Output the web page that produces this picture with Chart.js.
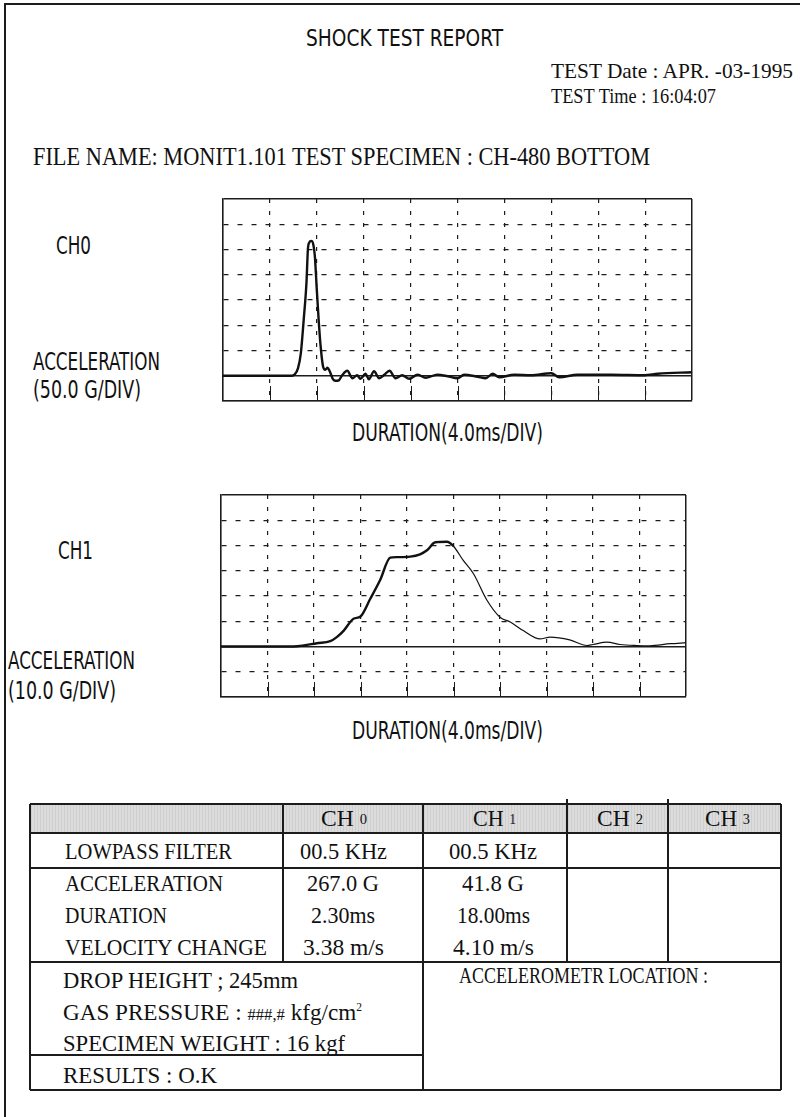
<!DOCTYPE html>
<html>
<head>
<meta charset="utf-8">
<script src="https://cdn.jsdelivr.net/npm/chart.js@4.4.1/dist/chart.umd.min.js"></script>
<style>
  body { margin: 0; background: #fff; }
  #page { position: relative; width: 800px; height: 1117px; overflow: hidden; background: #fff; }
  .t { position: absolute; white-space: nowrap; line-height: 1; color: #111; transform-origin: 0 50%; }
  .ln { position: absolute; background: #1c1c1c; }
  .hdr { position: absolute; background-color: #dcdcdc;
         background-image: radial-gradient(#8a8a8a 0.5px, transparent 0.8px); background-size: 3px 2px; }
  canvas { position: absolute; }
</style>
</head>
<body>
<div id="page">
  <canvas id="ch0" width="473" height="206" style="left:221px;top:197px"></canvas>
  <canvas id="ch1" width="469" height="206" style="left:219px;top:493px"></canvas>
</div>
<script>
// time axis, 4 ms per division, 10 divisions
const timeMin = 0, timeMax = 40, timeStep = 4;

// CH0, 50 G/DIV
const ch0Range = [-50, 350], ch0Step = 50;
const ch0Time  = [0, 5.88, 6.12, 6.4, 6.64, 6.88, 7.12, 7.24, 7.36, 7.52, 7.68, 7.84, 8.0, 8.16, 8.32, 8.52, 8.72, 8.92, 9.12, 9.36,
                  9.6, 9.88, 10.16, 10.6, 11.04, 11.44, 11.72, 12.16, 12.44, 12.88, 13.32, 13.76, 14.2, 14.72, 15.28, 15.88, 16.6, 17.28,
                  18.28, 19.16, 20.0, 20.56, 21.72, 22.4, 23.0, 23.56, 24.84, 26.28, 28.0, 28.68, 30.24, 33.12, 35.96, 37.08, 40];
const ch0Accel = [0, 0, 3, 15, 45, 110, 185, 250, 264, 267, 262, 235, 170, 110, 60, 20, 12, 16, 8, -6,
                  -10, -9, 1, 10, -5, 1, -6, 4, -7, 9, -5, 2, 10, -5, 1, -6, 2, -4,
                  2, -1, -5, 2, -2, -5, 4, -3, 2, 1, 5, -3, 2, 2, 1, 4, 7];

// CH1, 10 G/DIV
const ch1Range = [-20, 60], ch1Step = 10;
const ch1Time  = [0, 6.24, 7.12, 8.24, 9.4, 9.96, 10.56, 11.4, 12.0, 12.84, 13.68, 14.56, 15.12, 16.28, 17.12, 17.72, 18.44, 19.44,
                  20.0, 20.84, 21.72, 22.88, 24.0, 24.88, 26.0, 27.44, 28.32, 30.0, 31.48, 32.0, 33.2, 34.32, 35.76, 36.88, 38.64, 40];
const ch1Accel = [0, 0, 0.4, 1.3, 2.1, 3.7, 6.3, 11.0, 11.9, 18.9, 26.2, 35.2, 35.4, 35.6, 36.5, 38.1, 41.3, 41.5,
                  39.7, 34.1, 28.8, 18.3, 11.6, 9.7, 6.3, 3.0, 3.7, 2.6, 0.4, 0.8, 1.7, 0.8, 0.4, 0.3, 1.1, 1.5];
const ch1ThickUntil = 18;

// table
const channels  = ['0', '1', '2', '3'];
const rowLabels = ['LOWPASS FILTER', 'ACCELERATION', 'DURATION', 'VELOCITY CHANGE'];
const ch0Values = ['00.5 KHz', '267.0 G', '2.30ms', '3.38 m/s'];
const ch1Values = ['00.5 KHz', '41.8 G', '18.00ms', '4.10 m/s'];

const page = document.getElementById('page');
const SANS = '"Liberation Sans Narrow", "DejaVu Sans Condensed", sans-serif';
const SERIF = '"Liberation Serif", "DejaVu Serif", serif';

// text placed by cap centre; w = width seen in the scan, or k = fixed squeeze
function put(html, x, y, font, size, w, align, k) {
  const s = document.createElement('div');
  s.className = 't';
  s.innerHTML = html;
  s.style.fontFamily = font;
  s.style.fontSize = size + 'px';
  page.appendChild(s);
  const nat = s.getBoundingClientRect().width;
  if (!k) k = w ? w / nat : 1;
  const ww = nat * k;
  s.style.left = (align === 'center' ? x - ww / 2 : x) + 'px';
  s.style.top = (y - size / 2) + 'px';
  s.style.transform = 'scaleX(' + k + ')';
  return k;
}
function hline(x1, x2, y, t) {
  const d = document.createElement('div');
  d.className = 'ln';
  t = t || 1.5;
  Object.assign(d.style, { left: x1 + 'px', top: (y - t / 2) + 'px', width: (x2 - x1) + 'px', height: t + 'px' });
  page.appendChild(d);
}
function vline(x, y1, y2, t) {
  const d = document.createElement('div');
  d.className = 'ln';
  t = t || 1.5;
  Object.assign(d.style, { left: (x - t / 2) + 'px', top: y1 + 'px', width: t + 'px', height: (y2 - y1) + 'px' });
  page.appendChild(d);
}

// page frame
hline(4, 800, 4, 1.5);
vline(5, 4, 1117, 1.5);

// header texts
put('SHOCK TEST REPORT', 404, 38, SANS, 23, 197, 'center');
put('TEST Date : APR. -03-1995', 551, 71, SERIF, 21, 242);
put('TEST Time : 16:04:07', 551, 96, SERIF, 21, 165);
put('FILE NAME: MONIT1.101 TEST SPECIMEN : CH-480 BOTTOM', 33, 156, SERIF, 25, 617);

// chart side labels
put('CH0', 56, 245, SANS, 25, 35);
put('ACCELERATION', 33, 361, SANS, 25, 127);
put('(50.0 G/DIV)', 33, 389, SANS, 25, 108);
put('DURATION(4.0ms/DIV)', 447, 432, SANS, 25, 191, 'center');
put('CH1', 58, 550, SANS, 25, 35);
put('ACCELERATION', 8, 660, SANS, 25, 127);
put('(10.0 G/DIV)', 8, 690, SANS, 25, 108);
put('DURATION(4.0ms/DIV)', 447, 730, SANS, 25, 191, 'center');

// inside tick marks along the bottom edge
const bottomTicks = {
  id: 'bottomTicks',
  afterDatasetsDraw(chart) {
    const { ctx, chartArea, scales } = chart;
    ctx.save();
    ctx.strokeStyle = '#1c1c1c';
    ctx.lineWidth = 1;
    scales.x.ticks.forEach((t) => {
      if (t.value === timeMin || t.value === timeMax) return;
      const px = Math.round(scales.x.getPixelForValue(t.value)) + 0.5;
      ctx.beginPath();
      ctx.moveTo(px, chartArea.bottom);
      ctx.lineTo(px, chartArea.bottom - 15);
      ctx.stroke();
    });
    ctx.restore();
  }
};

function makeChart(id, xs, ys, range, step, widthFn) {
  const pts = xs.map((x, i) => ({ x, y: ys[i] }));
  return new Chart(document.getElementById(id), {
    type: 'line',
    data: {
      datasets: [{
        data: pts,
        borderColor: '#111',
        borderWidth: 2.4,
        pointRadius: 0,
        cubicInterpolationMode: 'monotone',
        segment: widthFn ? { borderWidth: widthFn } : undefined
      }]
    },
    options: {
      responsive: false,
      animation: false,
      devicePixelRatio: 1,
      layout: { padding: 2 },
      plugins: { legend: { display: false }, tooltip: { enabled: false } },
      scales: {
        x: {
          type: 'linear', min: timeMin, max: timeMax,
          ticks: { stepSize: timeStep, display: false },
          grid: { drawTicks: false, color: '#1c1c1c', lineWidth: (c) => (c.tick && c.tick.value === timeMax ? 1.5 : 1.2) },
          border: { color: '#1c1c1c', width: 1.5,
                    dash: (c) => (c.tick && (c.tick.value === timeMin || c.tick.value === timeMax) ? [] : [4, 8]) }
        },
        y: {
          min: range[0], max: range[1],
          ticks: { stepSize: step, display: false },
          grid: { drawTicks: false, color: '#1c1c1c',
                  lineWidth: (c) => (c.tick && (c.tick.value === 0 || c.tick.value === range[1]) ? 1.5 : 1.2) },
          border: { color: '#1c1c1c', width: 1.5,
                    dash: (c) => (c.tick && (c.tick.value === 0 || c.tick.value === range[0] || c.tick.value === range[1]) ? [] : [5, 9]) }
        }
      }
    },
    plugins: [bottomTicks]
  });
}

makeChart('ch0', ch0Time, ch0Accel, ch0Range, ch0Step, null);
makeChart('ch1', ch1Time, ch1Accel, ch1Range, ch1Step, (c) => (c.p0DataIndex < ch1ThickUntil ? 2.4 : 1.2));

// table
const TL = 30, C1 = 283, C2 = 423, C3 = 567, C4 = 668, TR = 781;
const TT = 804, TH = 833, R1 = 868, R2 = 962, R3 = 1055, TB = 1090;

const hdr = document.createElement('div');
hdr.className = 'hdr';
Object.assign(hdr.style, { left: TL + 'px', top: TT + 'px', width: (TR - TL) + 'px', height: (TH - TT) + 'px' });
page.appendChild(hdr);

hline(TL, TR, TT); hline(TL, TR, TH); hline(TL, TR, R1); hline(TL, TR, R2);
hline(TL, C2, R3); hline(TL, TR, TB);
vline(TL, TT, TB); vline(C1, TT, R2); vline(C2, TT, TB);
vline(C3, TT - 5, R2); vline(C4, TT - 5, R2); vline(TR, TT, TB);

const hdrX = [344, 494, 620, 727];
const hdrW = [46, 43, 46, 45];
channels.forEach((c, i) => {
  put('CH <span style="font-size:62%;vertical-align:2px">' + c + '</span>', hdrX[i], 818, SERIF, 23, hdrW[i], 'center');
});

const rowY = [851, 883, 915, 947];
const labelW = [167, 158, 102, 202];
const ch0W = [87, 72, 64, 81];
const ch1W = [88, 62, 73, 81];
rowLabels.forEach((r, i) => {
  put(r, 65, rowY[i], SERIF, 23, labelW[i]);
  put(ch0Values[i], 343, rowY[i], SERIF, 23, ch0W[i], 'center');
  put(ch1Values[i], 493, rowY[i], SERIF, 23, ch1W[i], 'center');
});

put('DROP HEIGHT ; 245mm', 63, 980, SERIF, 23, 235);
put('GAS PRESSURE : <span style="font-size:72%">###,#</span> kfg/cm<sup style="font-size:50%">2</sup>', 63, 1012, SERIF, 23, 299);
put('SPECIMEN WEIGHT : 16 kgf', 63, 1043, SERIF, 23, 282);
put('RESULTS : O.K', 63, 1075, SERIF, 23, 154);
put('ACCELEROMETR LOCATION :', 459, 975, SERIF, 23, 249);
</script>
</body>
</html>
